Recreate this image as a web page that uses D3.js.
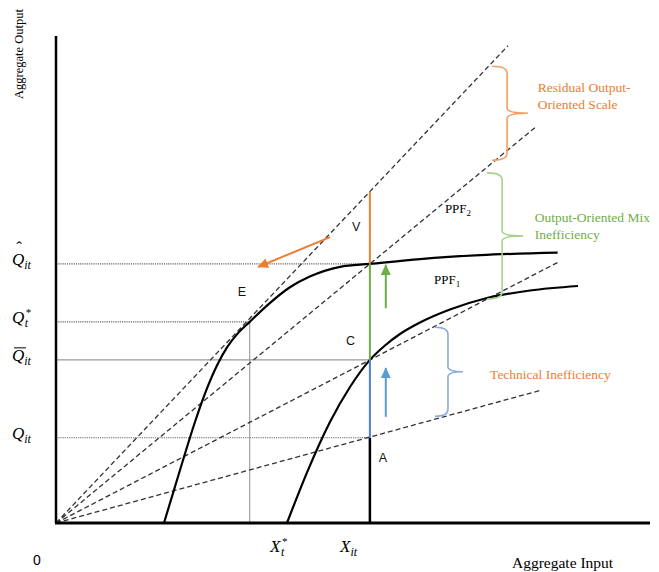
<!DOCTYPE html>
<html>
<head>
<meta charset="utf-8">
<script src="https://cdn.jsdelivr.net/npm/d3@7"></script>
<style>
  body { margin: 0; background: #fff; }
  svg { display: block; }
  .serif { font-family: "Liberation Serif", "Times New Roman", serif; }
  .sans { font-family: "Liberation Sans", Arial, sans-serif; }
  .math { font-family: "Liberation Serif", "Times New Roman", serif; font-style: italic; }
</style>
</head>
<body>
<svg id="chart" width="659" height="572"></svg>
<script>
// input levels on the horizontal axis: X*_t, X_it
const inputLevels = [3.9, 6.32];
// output levels on the vertical axis: Q_it, Qbar_it, Q*_t, Qhat_it
const outputLevels = [1.75, 3.35, 4.13, 5.32];
// top of the scale (orange) segment above X_it
const scaleTop = 6.8;

// dashed rays from the origin, given by their far end
const rayEnds = [[9.1, 9.8], [9.68, 8.15], [10.1, 5.35], [9.74, 2.72]];

// production possibility frontiers
const ppf1 = [[4.65, 0], [5.053, 1.035], [5.516, 2.074], [5.919, 2.793], [6.32, 3.35], [6.624, 3.645],
              [6.926, 3.881], [7.328, 4.117], [7.932, 4.384], [8.677, 4.62], [9.543, 4.774], [10.51, 4.867]];
const ppf2 = [[2.174, 0], [2.497, 1.088], [2.798, 2.074], [3.04, 2.764], [3.241, 3.236], [3.443, 3.606],
              [3.664, 3.899], [3.9, 4.13], [4.31, 4.52], [4.71, 4.84], [5.11, 5.06], [5.72, 5.26],
              [6.32, 5.32], [7.33, 5.42], [8.54, 5.5], [10.1, 5.55]];

// braces: [x, upper, lower]
const braceSpans = [[8.78, 9.38, 7.45], [8.68, 7.19, 4.6], [7.63, 4.02, 2.19]];
const braceText = [
  { lines: ['Residual Output-', 'Oriented Scale'], x: 9.70, y: 8.85 },
  { lines: ['Output-Oriented Mix', 'Inefficiency'], x: 9.64, y: 6.18 },
  { lines: ['Technical Inefficiency'], x: 8.74, y: 2.96 },
];

// arrows [x1, y1, x2, y2]
const arrows = [[6.64, 2.18, 6.64, 3.18], [6.64, 4.41, 6.64, 5.30], [5.52, 5.87, 4.07, 5.26]];

const pointLabels = [['V', 5.96, 6.0], ['E', 3.66, 4.66], ['C', 5.84, 3.65], ['A', 6.5, 1.25]];
const ppfLabels = [['1', 7.61, 4.91], ['2', 7.83, 6.37]];

// axis symbols
const xLabels = [['X', '*', 't', 4.31], ['X', '', 'it', 5.72]];
const yLabels = [['Q', '', 'it', 'none'], ['Q', '', 'it', 'bar'], ['Q', '*', 't', 'none'], ['Q', '', 'it', 'hat']];

const ORANGE = '#ED7D31', GREEN = '#70AD47', BLUE = '#4A7FD4';
const braceColors = ['#F2A063', '#A9D18E', '#8EAADB'];
const braceTextColors = [ORANGE, GREEN, ORANGE];
const arrowColors = ['#5B9BD5', GREEN, ORANGE];

const svg = d3.select('#chart');
const x = d3.scaleLinear().domain([0, 12]).range([56, 652]);
const y = d3.scaleLinear().domain([0, 10]).range([523, 36]);

const defs = svg.append('defs');
arrowColors.forEach((c, i) => {
  defs.append('marker')
    .attr('id', `head-${i}`)
    .attr('markerUnits', 'userSpaceOnUse')
    .attr('markerWidth', 12).attr('markerHeight', 10)
    .attr('refX', 10).attr('refY', 5)
    .attr('orient', 'auto')
    .append('path')
    .attr('d', 'M0,0 L11,5 L0,10 z')
    .attr('fill', c);
});

// reference lines to the axes
const qIt = outputLevels[0], qBar = outputLevels[1], qStar = outputLevels[2], qHat = outputLevels[3];
const xStar = inputLevels[0], xIt = inputLevels[1];
const guides = [
  [0, qHat, xIt, qHat, '#666', '1.2,1'],
  [0, qStar, xStar, qStar, '#666', '1.2,1'],
  [0, qBar, xIt, qBar, '#999', null],
  [0, qIt, xIt, qIt, '#666', '1.2,1'],
  [xStar, 0, xStar, qStar, '#999', null],
];
guides.forEach(g => {
  svg.append('line')
    .attr('x1', x(g[0])).attr('y1', y(g[1]))
    .attr('x2', x(g[2])).attr('y2', y(g[3]))
    .attr('stroke', g[4]).attr('stroke-width', 1.1)
    .attr('stroke-dasharray', g[5]);
});

// rays
rayEnds.forEach(r => {
  svg.append('line')
    .attr('x1', x(0)).attr('y1', y(0))
    .attr('x2', x(r[0])).attr('y2', y(r[1]))
    .attr('stroke', '#333').attr('stroke-width', 1.3)
    .attr('stroke-dasharray', '5,3');
});

// frontiers
const line = d3.line().x(d => x(d[0])).y(d => y(d[1])).curve(d3.curveMonotoneX);
[ppf1, ppf2].forEach(p => {
  svg.append('path').attr('d', line(p))
    .attr('fill', 'none').attr('stroke', '#000').attr('stroke-width', 2.2);
});

// segments above X_it
const segs = [[0, qIt, '#000'], [qIt, qBar, BLUE], [qBar, qHat, GREEN], [qHat, scaleTop, ORANGE]];
segs.forEach(s => {
  svg.append('line')
    .attr('x1', x(xIt)).attr('y1', y(s[0]))
    .attr('x2', x(xIt)).attr('y2', y(s[1]))
    .attr('stroke', s[2]).attr('stroke-width', s[2] === '#000' ? 2.5 : 2);
});

// arrows
arrows.forEach((a, i) => {
  svg.append('line')
    .attr('x1', x(a[0])).attr('y1', y(a[1]))
    .attr('x2', x(a[2])).attr('y2', y(a[3]))
    .attr('stroke', arrowColors[i]).attr('stroke-width', 2)
    .attr('marker-end', `url(#head-${i})`);
});

// axes
svg.append('line').attr('x1', x(0)).attr('y1', y(0)).attr('x2', x(0)).attr('y2', y(10))
  .attr('stroke', '#000').attr('stroke-width', 2.5);
svg.append('line').attr('x1', x(0) - 1).attr('y1', y(0)).attr('x2', x(12) - 2).attr('y2', y(0))
  .attr('stroke', '#000').attr('stroke-width', 2.8);

// braces
braceSpans.forEach((b, i) => {
  const bx = x(b[0]), y1 = y(b[1]), y2 = y(b[2]), ym = (y1 + y2) / 2;
  const vx = bx + (i === 2 ? 13 : 15), tip = i === 2 ? 15 : 21;
  const d = `M${bx},${y1} Q${vx},${y1} ${vx},${y1 + 7} L${vx},${ym - 5} Q${vx},${ym} ${vx + tip},${ym}` +
            ` Q${vx},${ym} ${vx},${ym + 5} L${vx},${y2 - 7} Q${vx},${y2} ${bx},${y2}`;
  svg.append('path').attr('d', d)
    .attr('fill', 'none').attr('stroke', braceColors[i]).attr('stroke-width', 1.6);
});

braceText.forEach((t, i) => {
  const txt = svg.append('text').attr('class', 'serif')
    .attr('x', x(t.x)).attr('y', y(t.y))
    .attr('font-size', 13.5).attr('fill', braceTextColors[i]);
  t.lines.forEach((l, j) => {
    txt.append('tspan').attr('x', x(t.x)).attr('dy', j ? 17 : 0).text(l);
  });
});

// point labels
pointLabels.forEach(p => {
  svg.append('text').attr('class', 'sans')
    .attr('x', x(p[1])).attr('y', y(p[2]))
    .attr('font-size', 12.5).attr('fill', '#111').text(p[0]);
});
ppfLabels.forEach(p => {
  const t = svg.append('text').attr('class', 'serif')
    .attr('x', x(p[1])).attr('y', y(p[2]))
    .attr('font-size', 13).attr('fill', '#000');
  t.append('tspan').text('PPF');
  t.append('tspan').attr('font-size', 9).attr('dy', 3).text(p[0]);
});

// axis symbols
xLabels.forEach(l => {
  const t = svg.append('text').attr('class', 'math')
    .attr('x', x(l[3])).attr('y', 552).attr('font-size', 17);
  t.append('tspan').text(l[0]);
  if (l[1]) t.append('tspan').attr('font-size', 11).attr('dy', -7).attr('dx', 1).text(l[1]);
  t.append('tspan').attr('font-size', 12).attr('dy', l[1] ? 11 : 4)
    .attr('dx', l[1] ? -6 : 0).text(l[2]);
});
yLabels.forEach((l, i) => {
  const by = y(outputLevels[i]) + 1;
  const t = svg.append('text').attr('class', 'math')
    .attr('x', 12).attr('y', by).attr('font-size', 17);
  t.append('tspan').text(l[0]);
  if (l[1]) t.append('tspan').attr('font-size', 11).attr('dy', -7).attr('dx', 1).text(l[1]);
  t.append('tspan').attr('font-size', 12).attr('dy', l[1] ? 11 : 4)
    .attr('dx', l[1] ? -6 : 0).text(l[2]);
  if (l[3] === 'hat') {
    svg.append('text').attr('class', 'serif').attr('x', 19).attr('y', by - 12)
      .attr('text-anchor', 'middle').attr('font-size', 17).text('\u02C6');
  }
  if (l[3] === 'bar') {
    svg.append('line').attr('x1', 14).attr('x2', 26).attr('y1', by - 13).attr('y2', by - 13)
      .attr('stroke', '#000').attr('stroke-width', 1);
  }
});

svg.append('text').attr('class', 'sans').attr('x', 33).attr('y', 565)
  .attr('font-size', 14).text('0');
svg.append('text').attr('class', 'serif').attr('x', 512).attr('y', 568)
  .attr('font-size', 15.5).text('Aggregate Input');
svg.append('text').attr('class', 'serif')
  .attr('transform', 'translate(23,54) rotate(-90)')
  .attr('text-anchor', 'middle').attr('font-size', 12.5).text('Aggregate Output');
</script>
</body>
</html>
